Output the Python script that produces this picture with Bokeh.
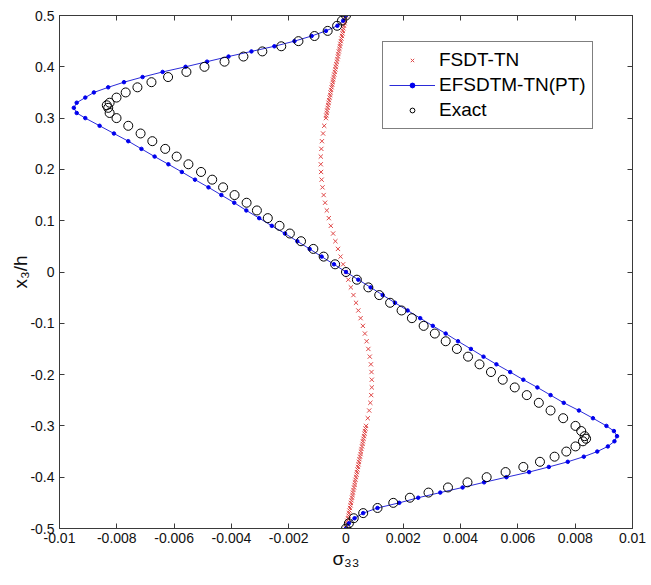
from bokeh.plotting import figure
from bokeh.models import (FixedTicker, CustomJSTickFormatter, LinearAxis, Legend,
                          LegendItem, Range1d, ColumnDataSource)
from bokeh.embed import file_html
from bokeh.resources import INLINE

# ---------------- data ----------------
x_ticks = [-0.01, -0.008, -0.006, -0.004, -0.002, 0, 0.002, 0.004, 0.006, 0.008, 0.01]
y_ticks = [-0.5, -0.4, -0.3, -0.2, -0.1, 0, 0.1, 0.2, 0.3, 0.4, 0.5]

# EFSDTM-TN(PT)
efs_y = [0.50, 0.49, 0.48, 0.47, 0.46, 0.45, 0.44, 0.43, 0.42, 0.41, 0.40,
         0.39, 0.38, 0.37, 0.36, 0.35, 0.34, 0.33, 0.32, 0.31, 0.30,
         0.285, 0.27, 0.255, 0.24, 0.225, 0.21, 0.195, 0.18, 0.165, 0.15,
         0.135, 0.12, 0.105, 0.09, 0.075, 0.06, 0.045, 0.03, 0.015, 0.0,
         -0.015, -0.03, -0.045, -0.06, -0.075, -0.09, -0.105, -0.12, -0.135, -0.15,
         -0.165, -0.18, -0.195, -0.21, -0.225, -0.24, -0.255, -0.27, -0.285,
         -0.30, -0.31, -0.32, -0.33, -0.34, -0.35, -0.36, -0.37, -0.38, -0.39,
         -0.40, -0.41, -0.42, -0.43, -0.44, -0.45, -0.46, -0.47, -0.48, -0.49, -0.50]
efs_x = [0.0, -0.0001, -0.0003, -0.0007, -0.0012, -0.0018, -0.0025, -0.0033, -0.0041, -0.00485, -0.0056,
         -0.0064, -0.0071, -0.00775, -0.0083, -0.0088, -0.0091, -0.0094, -0.0095, -0.0094, -0.0091,
         -0.0086, -0.0081, -0.0076, -0.00714, -0.00668, -0.0062, -0.00573, -0.00527, -0.0048, -0.00435,
         -0.0039, -0.00348, -0.00303, -0.00259, -0.00213, -0.0017, -0.00127, -0.00085, -0.00042, 0.0,
         0.00043, 0.00086, 0.00128, 0.00171, 0.00215, 0.00259, 0.00303, 0.00348, 0.00391, 0.00436,
         0.0048, 0.00525, 0.00573, 0.00619, 0.00668, 0.00714, 0.0076, 0.00813, 0.00862,
         0.00909, 0.00935, 0.00946, 0.00937, 0.00914, 0.00877, 0.0083, 0.00774, 0.00708, 0.00639,
         0.0056, 0.00482, 0.00407, 0.00329, 0.00252, 0.00186, 0.0011, 0.0006, 0.0003, 0.0001, 0.0]

# Exact
ex_y = [0.50, 0.49, 0.48, 0.47, 0.46, 0.45, 0.44, 0.43, 0.42, 0.41, 0.40,
        0.39, 0.38, 0.37, 0.36, 0.35, 0.34, 0.33, 0.325, 0.32, 0.31, 0.30,
        0.285, 0.27, 0.255, 0.24, 0.225, 0.21, 0.195, 0.18, 0.165, 0.15,
        0.135, 0.12, 0.105, 0.09, 0.075, 0.06, 0.045, 0.03, 0.015, 0.0,
        -0.015, -0.03, -0.045, -0.06, -0.075, -0.09, -0.105, -0.12, -0.135, -0.15,
        -0.165, -0.18, -0.195, -0.21, -0.225, -0.24, -0.255, -0.27, -0.285,
        -0.30, -0.31, -0.32, -0.325, -0.33, -0.34, -0.35, -0.36, -0.37, -0.38, -0.39,
        -0.40, -0.41, -0.42, -0.43, -0.44, -0.45, -0.46, -0.47, -0.48, -0.49, -0.50]
ex_x = [0.0, -0.00014, -0.00031, -0.00064, -0.0011, -0.00166, -0.00226, -0.00292, -0.00358, -0.00424, -0.00494,
        -0.00557, -0.00621, -0.00679, -0.00728, -0.00769, -0.00801, -0.00825, -0.00835, -0.0083, -0.00825, -0.00801,
        -0.0076, -0.00717, -0.00676, -0.00631, -0.00591, -0.0055, -0.00506, -0.00467, -0.00429, -0.00389,
        -0.00347, -0.00311, -0.00273, -0.00232, -0.00196, -0.00157, -0.00114, -0.00078, -0.00038, 0.0,
        0.00038, 0.00078, 0.00116, 0.00154, 0.00194, 0.0023, 0.00271, 0.0031, 0.00348, 0.00387,
        0.00426, 0.00466, 0.00506, 0.00547, 0.00589, 0.00631, 0.00673, 0.00714, 0.00758,
        0.00801, 0.00821, 0.00833, 0.00838, 0.00827, 0.00801, 0.00769, 0.00728, 0.00677, 0.00619, 0.00557,
        0.00491, 0.00424, 0.00356, 0.00288, 0.00223, 0.00165, 0.0011, 0.0006, 0.00027, 0.0001, 0.0]

# FSDT-TN
fs_y = [0.500, 0.495, 0.490, 0.485, 0.480, 0.475, 0.470, 0.465, 0.460, 0.455,
        0.450, 0.445, 0.440, 0.435, 0.430, 0.425, 0.420, 0.415, 0.410, 0.405,
        0.400, 0.395, 0.390, 0.385, 0.380, 0.375, 0.370, 0.365, 0.360, 0.355,
        0.350, 0.345, 0.340, 0.335, 0.330, 0.325, 0.320, 0.315, 0.310, 0.305, 0.300,
        0.285, 0.27, 0.255, 0.24, 0.225, 0.21, 0.195, 0.18, 0.165, 0.15,
        0.135, 0.12, 0.105, 0.09, 0.075, 0.06, 0.045, 0.03, 0.015, 0.0,
        -0.015, -0.03, -0.045, -0.06, -0.075, -0.09, -0.105, -0.12, -0.135, -0.15,
        -0.165, -0.18, -0.195, -0.21, -0.225, -0.24, -0.255, -0.27, -0.285,
        -0.300, -0.305, -0.310, -0.315, -0.320, -0.325, -0.330, -0.335, -0.340, -0.345,
        -0.350, -0.355, -0.360, -0.365, -0.370, -0.375, -0.380, -0.385, -0.390, -0.395,
        -0.400, -0.405, -0.410, -0.415, -0.420, -0.425, -0.430, -0.435, -0.440, -0.445,
        -0.450, -0.455, -0.460, -0.465, -0.470, -0.475, -0.480, -0.485, -0.490, -0.495, -0.500]
fs_x = [0.0, -0.00002, -0.00004, -0.00005, -0.00007, -0.00009, -0.00011, -0.00012, -0.00014, -0.00016,
        -0.00018, -0.0002, -0.00021, -0.00023, -0.00025, -0.00027, -0.00028, -0.0003, -0.00032, -0.00034,
        -0.00036, -0.00037, -0.00039, -0.00041, -0.00043, -0.00045, -0.00046, -0.00048, -0.0005, -0.00052,
        -0.00054, -0.00055, -0.00057, -0.00059, -0.00061, -0.00062, -0.00064, -0.00066, -0.00067, -0.00069, -0.0007,
        -0.00076, -0.0008, -0.00084, -0.00086, -0.00088, -0.00088, -0.00087, -0.00085, -0.00082, -0.00078,
        -0.00073, -0.00067, -0.0006, -0.00053, -0.00045, -0.00037, -0.00028, -0.00019, -0.0001, -0.00001,
        0.00008, 0.00017, 0.00026, 0.00035, 0.00043, 0.00051, 0.00059, 0.00066, 0.00072, 0.00078,
        0.00083, 0.00087, 0.00089, 0.0009, 0.0009, 0.00088, 0.00085, 0.00081, 0.00076,
        0.0007, 0.00068, 0.00066, 0.00065, 0.00063, 0.00061, 0.00059, 0.00058, 0.00056, 0.00054,
        0.00052, 0.00051, 0.00049, 0.00047, 0.00045, 0.00044, 0.00042, 0.0004, 0.00038, 0.00037,
        0.00035, 0.00033, 0.00031, 0.0003, 0.00028, 0.00026, 0.00024, 0.00023, 0.00021, 0.00019,
        0.00017, 0.00016, 0.00014, 0.00012, 0.0001, 0.00009, 0.00007, 0.00005, 0.00003, 0.00002, 0.0]

labels = ["FSDT-TN", "EFSDTM-TN(PT)", "Exact"]
x_title = "σ₃₃"
y_title = "x₃/h"

# ---------------- figure ----------------
FONT = "Liberation Sans"
AX = "#3a3a3a"

p = figure(frame_width=573, frame_height=513,
           min_border_left=59, min_border_right=19, min_border_top=15, min_border_bottom=57,
           x_range=Range1d(-0.01, 0.01), y_range=Range1d(-0.5, 0.5),
           output_backend="svg", toolbar_location=None,
           background_fill_color="white", border_fill_color="white")
p.grid.visible = False
p.outline_line_color = AX

bottom_ax = p.xaxis[0]
left_ax = p.yaxis[0]

fmt = CustomJSTickFormatter(code="return Number(tick.toFixed(4)).toString();")
blank = CustomJSTickFormatter(code="return '';")

def style_axis(ax, ticks, show_labels):
    ax.ticker = FixedTicker(ticks=ticks)
    ax.major_tick_in = 5
    ax.major_tick_out = 0
    ax.minor_tick_line_color = None
    ax.axis_line_color = AX
    ax.major_tick_line_color = AX
    ax.major_label_text_font = FONT
    ax.major_label_text_color = "#111111"
    if show_labels:
        ax.formatter = fmt
        ax.major_label_text_font_size = "14px"
        ax.major_label_standoff = 4
    else:
        ax.formatter = blank
        ax.major_label_text_font_size = "1px"
        ax.major_label_standoff = 0

style_axis(bottom_ax, x_ticks, True)
style_axis(left_ax, y_ticks, True)
left_ax.major_label_standoff = 5

top_ax = LinearAxis()
right_ax = LinearAxis()
style_axis(top_ax, x_ticks, False)
style_axis(right_ax, y_ticks, False)
p.add_layout(top_ax, "above")
p.add_layout(right_ax, "right")

for ax, t in ((bottom_ax, x_title), (left_ax, y_title)):
    ax.axis_label = t
    ax.axis_label_text_font = FONT
    ax.axis_label_text_font_style = "normal"
    ax.axis_label_text_font_size = "19px"
    ax.axis_label_text_color = "#111111"
bottom_ax.axis_label_standoff = 2
left_ax.axis_label_standoff = -4

src_fs = ColumnDataSource(dict(x=fs_x, y=fs_y))
src_ef = ColumnDataSource(dict(x=efs_x, y=efs_y))
src_ex = ColumnDataSource(dict(x=ex_x, y=ex_y))

r_fs = p.scatter("x", "y", source=src_fs, marker="x", size=6, line_color="#e04848", line_width=1)
r_ef_line = p.line("x", "y", source=src_ef, line_color="#2b2bd8", line_width=1)
r_ef_pts = p.scatter("x", "y", source=src_ef, marker="circle", size=3.5, fill_color="#0000ee",
                     line_color="#0000ee")
r_ex = p.scatter("x", "y", source=src_ex, marker="circle", size=9, fill_color=None,
                 line_color="black", line_width=1)

legend = Legend(items=[LegendItem(label=labels[0], renderers=[r_fs]),
                       LegendItem(label=labels[1], renderers=[r_ef_line, r_ef_pts]),
                       LegendItem(label=labels[2], renderers=[r_ex])],
                location=(323, 399))
legend.label_text_font = FONT
legend.label_text_font_size = "19px"
legend.label_text_color = "black"
legend.glyph_width = 46
legend.glyph_height = 12
legend.label_height = 24
legend.label_standoff = 4
legend.padding = 6
legend.spacing = 1
legend.margin = 0
legend.border_line_color = "black"
legend.border_line_width = 1
legend.background_fill_color = "white"
legend.background_fill_alpha = 1
p.add_layout(legend)

open("out.html", "w").write(file_html(p, INLINE))
